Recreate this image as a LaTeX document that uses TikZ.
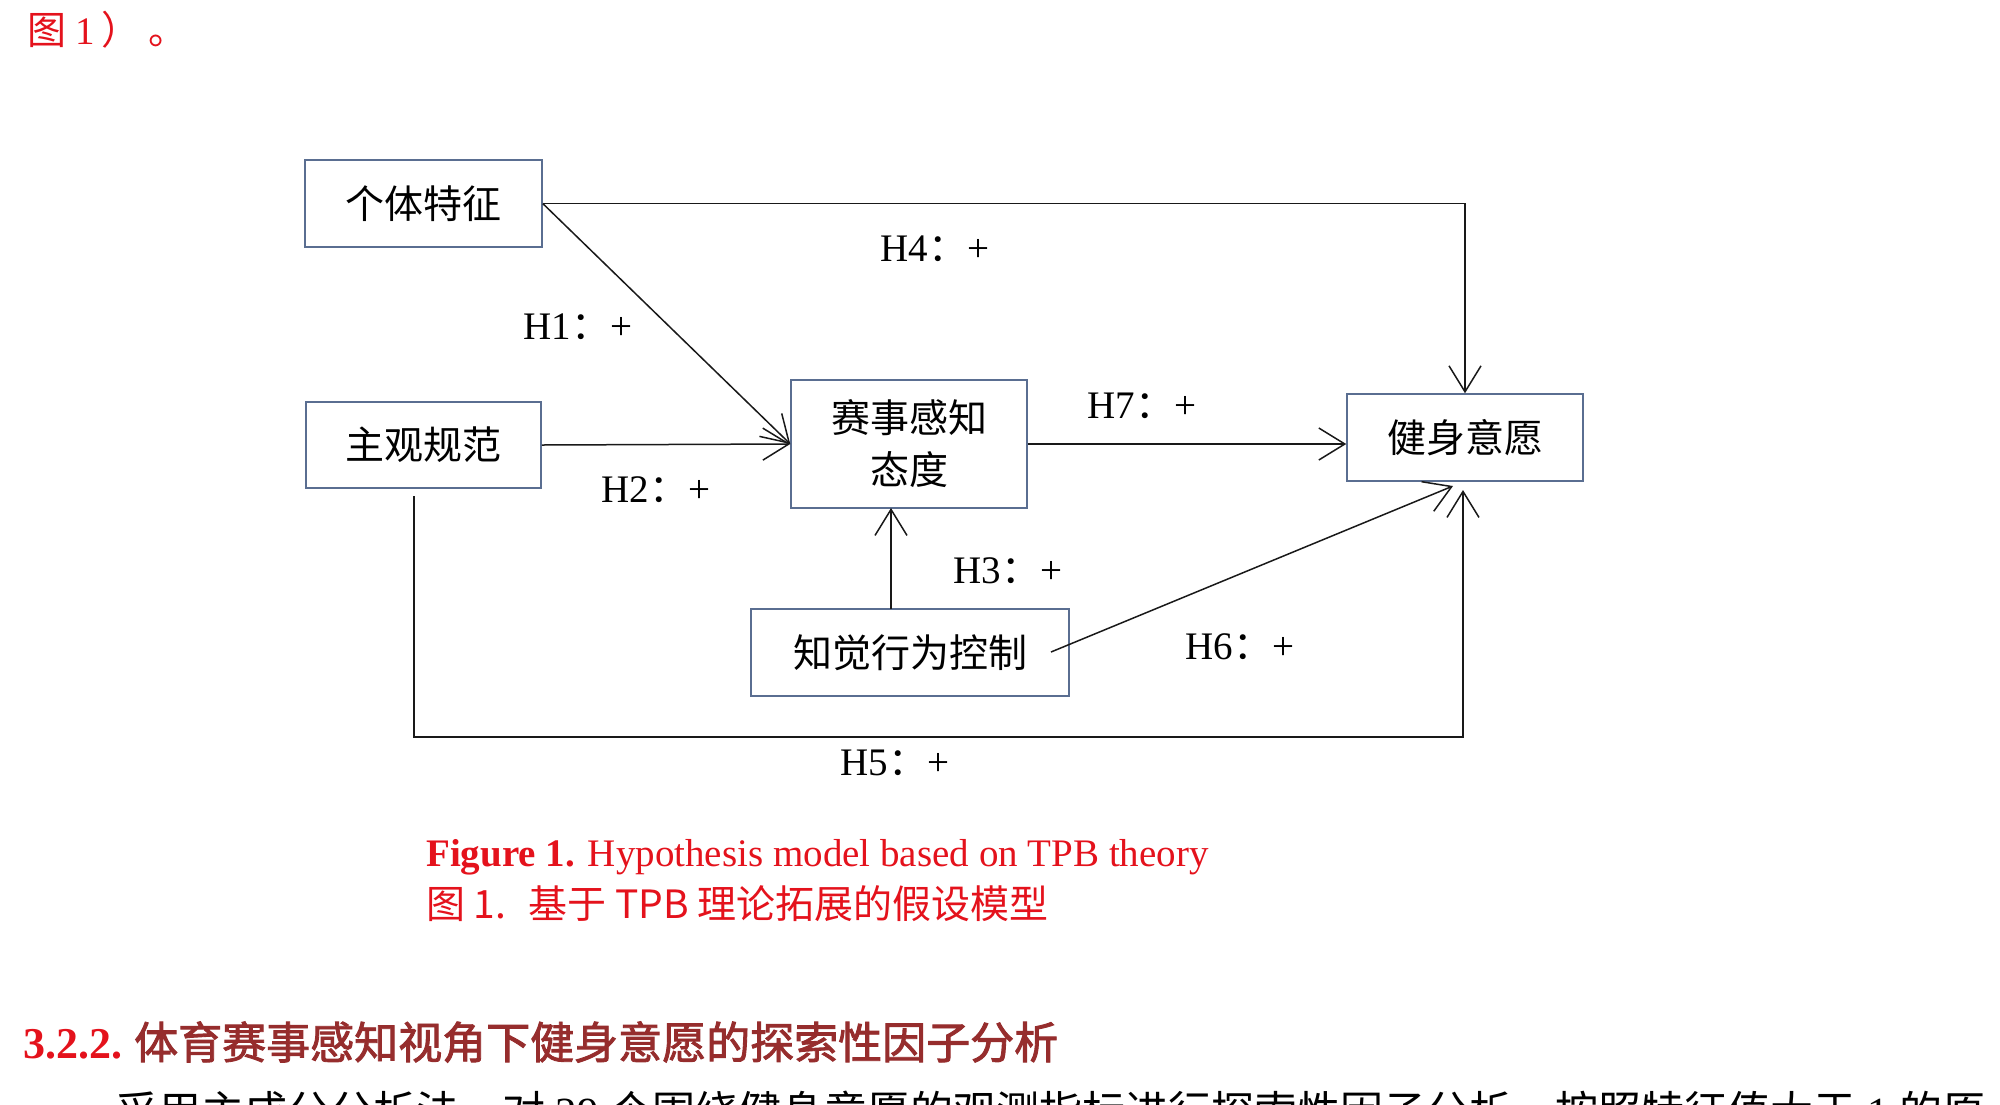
\documentclass[tikz,border=0pt]{standalone}
\usepackage{fontspec}
\setmainfont{Liberation Serif}
\newfontfamily\cjk{Noto Sans CJK SC}
\newfontfamily\cjkbold[FakeBold=2]{Noto Sans CJK SC}
\usetikzlibrary{arrows.meta}
\definecolor{boxc}{RGB}{90,110,145}
\definecolor{linec}{RGB}{25,25,25}
\definecolor{capred}{RGB}{228,18,28}
\definecolor{headred}{RGB}{150,45,45}
\tikzset{
  box/.style={draw=boxc, line width=1.5pt, inner sep=0pt, align=center,
    font=\cjk\fontsize{39}{52}\selectfont},
  lab/.style={inner sep=0pt, font=\fontsize{39}{47}\selectfont},
  txt/.style={inner sep=0pt, anchor=west},
  conn/.style={draw=linec, line width=1.5pt},
  arr/.style={conn, -{Straight Barb[length=26pt,width=32pt]}}
}
\begin{document}
\begin{tikzpicture}[x=1pt,y=-1pt]
\useasboundingbox (0,0) rectangle (2000,1104);
\clip (0,0) rectangle (2000,1104);

% top text
\node[txt, text=capred, font=\fontsize{39}{47}\selectfont] (toptext) at (27,30) {{\cjk 图} 1\hspace{6pt}{\cjk ）}\hspace{8pt}{\cjk 。}};

% boxes
\node[box, minimum width=237pt, minimum height=87pt] (A) at (423.5,203.5) {个体特征};
\node[box, minimum width=235pt, minimum height=86pt] (B) at (423.5,445) {主观规范};
\node[box, minimum width=236pt, minimum height=128pt] (C) at (909,444) {赛事感知\\态度};
\node[box, minimum width=236pt, minimum height=87pt] (D) at (1465,437.5) {健身意愿};
\node[box, minimum width=318pt, minimum height=87pt] (E) at (910,652.5) {知觉行为控制};

% helper coordinates
\coordinate (h3s) at (891,609);
\coordinate (h3e) at (891,508);
\coordinate (h6s) at (1051,652);
\coordinate (h6e) at (1453,486);
\coordinate (h5s) at (414,496);
\coordinate (h5a) at (414,737);
\coordinate (h5b) at (1463,737);
\coordinate (h5e) at (1463,490);

% connectors
\draw[arr] (A.east) -- (D.north |- A.east) -- (D.north);
\draw[arr] (A.east) -- (C.west);
\draw[arr] (B.east) -- (C.west);
\draw[arr] (C.east) -- (C.east -| D.west);
\draw[arr] (h3s) -- (h3e);
\draw[arr] (h6s) -- (h6e);
\draw[arr] (h5s) -- (h5a) -- (h5b) -- (h5e);

% labels
\node[lab] (L4) at (935,249) {H4{\cjk ：}+};
\node[lab] (L1) at (578,327) {H1{\cjk ：}+};
\node[lab] (L2) at (656,490) {H2{\cjk ：}+};
\node[lab] (L7) at (1142,406) {H7{\cjk ：}+};
\node[lab] (L3) at (1008,571) {H3{\cjk ：}+};
\node[lab] (L6) at (1240,647) {H6{\cjk ：}+};
\node[lab] (L5) at (895,763) {H5{\cjk ：}+};

% caption
\node[txt, text=capred, font=\fontsize{39}{47}\selectfont] (cap1) at (426,857)
  {\textbf{Figure 1.} Hypothesis model based on TPB theory};
\node[txt, text=capred, font=\cjk\fontsize{39}{47}\selectfont] (cap2) at (426,904)
  {图 1.\hspace{22pt}基于 TPB 理论拓展的假设模型};

% heading
\node[txt, font=\fontsize{44}{52}\selectfont] (head) at (23,1042)
  {\textcolor{capred}{\textbf{3.2.2.}}\hspace{12pt}\textcolor{headred}{\cjkbold 体育赛事感知视角下健身意愿的探索性因子分析}};

% body line (cut off at the bottom edge, as in the reference)
\node[txt, font=\fontsize{43}{51}\selectfont] (body) at (115,1112)
  {{\cjk 采用主成分分析法，对} 29 {\cjk 个围绕健身意愿的观测指标进行探索性因子分析，按照特征值大于} 1 {\cjk 的原}};
\end{tikzpicture}
\end{document}
